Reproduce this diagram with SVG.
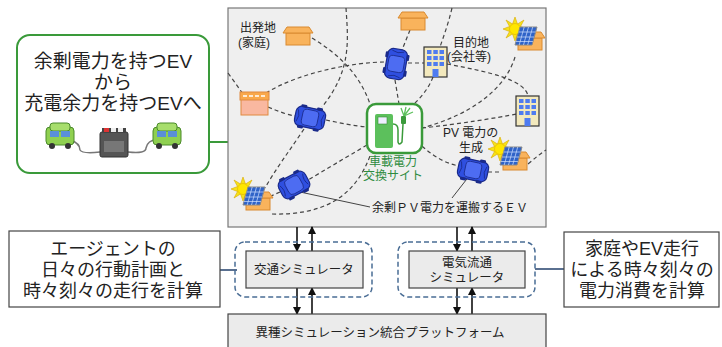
<svg xmlns="http://www.w3.org/2000/svg" width="722" height="347" viewBox="0 0 722 347">
  <style>
    .jp { font-family: "Liberation Sans", "Noto Sans CJK JP", sans-serif; fill: #222; }
    .big { font-size: 18px; }
    .mid { font-size: 12.5px; }
    .sm { font-size: 12px; }
    .road { fill: none; stroke: #444; stroke-width: 1.2; stroke-dasharray: 4 3; }
    .lead { fill: none; stroke: #444; stroke-width: 1; }
    .flow { fill: none; stroke: #111; stroke-width: 1.6; }
    .house { fill: #f9b35c; stroke: #d98a30; stroke-width: 1; }
    .sim { fill: #ebebeb; stroke: #444; stroke-width: 1.2; }
    .wrap { fill: none; stroke: #4a6d95; stroke-width: 1.5; stroke-dasharray: 5 3; }
    .note { fill: #fff; stroke: #444; stroke-width: 1.2; }
    .tie { stroke: #5a7090; stroke-width: 2; }
  </style>
  <defs>
    <marker id="ah" markerWidth="8" markerHeight="8" refX="7" refY="4" orient="auto" markerUnits="userSpaceOnUse">
      <path d="M0,0 L8,4 L0,8 Z" fill="#111"/>
    </marker>
    <!-- blue car, centred on origin, long axis along x -->
    <g id="car">
      <rect x="-15" y="-10" width="30" height="20" rx="6" fill="#2f4fe0" stroke="#1a2a8a" stroke-width="1.2"/>
      <rect x="-8" y="-8" width="16" height="16" rx="4" fill="#4d6cf2" stroke="#1a2a8a" stroke-width="0.8"/>
      <path d="M-13,-6 Q-10,0 -13,6 M13,-6 Q10,0 13,6" fill="none" stroke="#1a2a8a" stroke-width="0.8"/>
      <rect x="-11" y="-12" width="6" height="3" rx="1" fill="#1a2a8a"/>
      <rect x="5" y="-12" width="6" height="3" rx="1" fill="#1a2a8a"/>
      <rect x="-11" y="9" width="6" height="3" rx="1" fill="#1a2a8a"/>
      <rect x="5" y="9" width="6" height="3" rx="1" fill="#1a2a8a"/>
    </g>
    <!-- house, centred on origin -->
    <g id="house">
      <rect x="-12" y="-3" width="24" height="12" class="house"/>
      <path d="M-11,-9 L11,-9 L15,-3 L-15,-3 Z" class="house"/>
    </g>
    <!-- office building, top-left at origin -->
    <g id="bldg">
      <rect x="0" y="0" width="23" height="30" fill="#f3e9bd" stroke="#333" stroke-width="1.2"/>
      <g fill="#4f7cf0">
        <rect x="3" y="3" width="4.5" height="4"/><rect x="9.3" y="3" width="4.5" height="4"/><rect x="15.5" y="3" width="4.5" height="4"/>
        <rect x="3" y="9" width="4.5" height="4"/><rect x="9.3" y="9" width="4.5" height="4"/><rect x="15.5" y="9" width="4.5" height="4"/>
        <rect x="3" y="15" width="4.5" height="4"/><rect x="9.3" y="15" width="4.5" height="4"/><rect x="15.5" y="15" width="4.5" height="4"/>
        <rect x="8.5" y="22" width="6" height="8"/>
      </g>
    </g>
    <!-- sun with solar panel in front of a house -->
    <g id="solar">
      <use href="#house" x="15" y="12"/>
      <path d="M0,-12 L2.5,-5 L9,-9 L5.5,-2.5 L12,0 L5.5,2.5 L9,9 L2.5,5 L0,12 L-2.5,5 L-9,9 L-5.5,2.5 L-12,0 L-5.5,-2.5 L-9,-9 L-2.5,-5 Z" fill="#f5e21a" stroke="#d9a800" stroke-width="0.6"/>
      <circle cx="0" cy="0" r="5.5" fill="#ffe600" stroke="#e0b000" stroke-width="0.6"/>
      <path d="M5,-2 L22,-2 L17,16 L0,16 Z" fill="#2f63c8" stroke="#888" stroke-width="1"/>
      <path d="M9.2,-2 L4.2,16 M13.5,-2 L8.5,16 M17.7,-2 L12.7,16 M3.6,3 L20.6,3 M2.2,8 L19.2,8 M0.9,12.5 L17.9,12.5" stroke="#cfe0ff" stroke-width="0.7"/>
    </g>
    <!-- green van for the callout -->
    <g id="van">
      <rect x="0" y="4" width="28" height="18" rx="4" fill="#8fd050" stroke="#4a8a2a" stroke-width="1"/>
      <rect x="4" y="0" width="20" height="8" rx="3" fill="#a7de6c" stroke="#4a8a2a" stroke-width="1"/>
      <rect x="4" y="8" width="9" height="6" fill="#5a8fd8"/>
      <rect x="15" y="8" width="9" height="6" fill="#5a8fd8"/>
      <circle cx="6" cy="23" r="3" fill="#333"/>
      <circle cx="22" cy="23" r="3" fill="#333"/>
    </g>
  </defs>

  <rect width="722" height="347" fill="#fff"/>

  <!-- callout: EV-to-EV power transfer -->
  <g id="callout">
    <line x1="209" y1="142" x2="228" y2="142" stroke="#3a9a3a" stroke-width="2"/>
    <rect x="17" y="35" width="192" height="138" rx="13" fill="#fff" stroke="#3a9a3a" stroke-width="2"/>
    <text class="jp" font-size="19" text-anchor="middle" x="113" y="68">余剰電力を持つEV</text>
    <text class="jp" font-size="19" text-anchor="middle" x="113" y="89">から</text>
    <text class="jp" font-size="19" text-anchor="middle" x="113" y="110">充電余力を持つEVへ</text>
    <path d="M70,140 Q80,143 80,150 Q82,154 100,152 M128,152 Q146,154 146,148 Q148,140 156,140" fill="none" stroke="#777" stroke-width="1.5"/>
    <use href="#van" x="46" y="123"/>
    <use href="#van" x="153" y="123"/>
    <rect x="100" y="132" width="28" height="25" rx="2" fill="#555" stroke="#333" stroke-width="1"/>
    <rect x="104" y="141" width="20" height="11" fill="#777"/>
    <rect x="102" y="128" width="24" height="5" fill="#444"/>
    <rect x="104" y="128" width="5" height="4" fill="#d33"/>
    <rect x="111" y="128" width="5" height="4" fill="#eee"/>
    <rect x="118" y="128" width="5" height="4" fill="#eee"/>
  </g>

  <!-- town map -->
  <g id="map">
    <rect x="228" y="8" width="318" height="219" fill="#efefef" stroke="#777" stroke-width="1.2"/>
  </g>

  <!-- roads and leader lines -->
  <g id="connectors">
    <path class="road" d="M228,73 Q236,84 243,94"/>
    <path class="road" d="M266,93 C300,72 355,62 386,62"/>
    <path class="road" d="M408,63 L424,63"/>
    <path class="road" d="M447,64 C490,72 525,80 528,96"/>
    <path class="road" d="M312,38 C340,55 360,75 370,104"/>
    <path class="road" d="M346,8 C348,40 352,70 322,107"/>
    <path class="road" d="M410,30 L402,50"/>
    <path class="road" d="M395,80 L399,104"/>
    <path class="road" d="M452,8 C448,25 443,38 440,47"/>
    <path class="road" d="M433,77 C428,90 420,98 414,104"/>
    <path class="road" d="M515,57 C505,90 470,115 422,128"/>
    <path class="road" d="M422,128 C460,124 495,118 517,114"/>
    <path class="road" d="M422,146 C435,158 448,164 459,166"/>
    <path class="road" d="M488,172 L502,172"/>
    <path class="road" d="M528,164 C535,158 540,154 546,150"/>
    <path class="road" d="M268,107 C280,112 288,115 296,116"/>
    <path class="road" d="M326,120 C340,123 355,126 367,127"/>
    <path class="road" d="M304,129 C290,150 275,170 265,188"/>
    <path class="road" d="M367,145 C345,158 325,170 308,180"/>
    <path class="road" d="M280,192 L262,200"/>
    <path class="road" d="M272,214 C320,215 355,200 371,153"/>
    <path class="lead" d="M300,192 L370,207"/>
    <path class="lead" d="M470,175 L452,198"/>

    <!-- data exchange between simulators and platform -->
    <line class="flow" x1="297" y1="227" x2="297" y2="251" marker-end="url(#ah)"/>
    <line class="flow" x1="312" y1="251" x2="312" y2="227" marker-end="url(#ah)"/>
    <line class="flow" x1="297" y1="288" x2="297" y2="314" marker-end="url(#ah)"/>
    <line class="flow" x1="312" y1="314" x2="312" y2="288" marker-end="url(#ah)"/>
    <line class="flow" x1="457" y1="227" x2="457" y2="251" marker-end="url(#ah)"/>
    <line class="flow" x1="472" y1="251" x2="472" y2="227" marker-end="url(#ah)"/>
    <line class="flow" x1="457" y1="288" x2="457" y2="314" marker-end="url(#ah)"/>
    <line class="flow" x1="472" y1="314" x2="472" y2="288" marker-end="url(#ah)"/>

    <line class="tie" x1="220" y1="270" x2="237" y2="270"/>
    <line class="tie" x1="535" y1="269" x2="564" y2="269"/>
  </g>

  <g id="home">
    <use href="#house" x="298" y="36"/>
    <text class="jp sm" x="240" y="32">出発地</text>
    <text class="jp sm" x="238" y="47">(家庭)</text>
  </g>
  <g id="house-top">
    <use href="#house" x="413" y="21"/>
  </g>
  <g id="shop">
    <rect x="241" y="99" width="27" height="16" fill="#f9b8a0" stroke="#e08a40" stroke-width="1"/>
    <rect x="240" y="92" width="29" height="8" fill="#f9a84a" stroke="#e08a40" stroke-width="1"/>
    <path d="M243,96 h4 M249,96 h4 M255,96 h4 M261,96 h4" stroke="#fff" stroke-width="1.5"/>
  </g>
  <g id="office">
    <use href="#bldg" x="424" y="47"/>
    <text class="jp sm" x="453" y="47">目的地</text>
    <text class="jp sm" x="447" y="61">(会社等)</text>
  </g>
  <g id="office-2">
    <use href="#bldg" x="516" y="96" transform="translate(0,0)"/>
  </g>
  <g id="solar-top">
    <use href="#solar" x="515" y="29"/>
  </g>
  <g id="solar-left">
    <use href="#solar" x="243" y="189"/>
  </g>
  <g id="solar-right">
    <use href="#solar" x="500" y="149"/>
    <text class="jp sm" x="443" y="137">PV 電力の</text>
    <text class="jp sm" x="459" y="152">生成</text>
  </g>

  <g id="ev-1"><use href="#car" transform="translate(396,64) rotate(100)"/></g>
  <g id="ev-2"><use href="#car" transform="translate(310,118) rotate(12)"/></g>
  <g id="ev-3"><use href="#car" transform="translate(294,185) rotate(-28)"/></g>
  <g id="ev-4"><use href="#car" transform="translate(473,170) rotate(12)"/></g>

  <g id="exchange-site">
    <rect x="367" y="104" width="55" height="49" rx="9" fill="#fff" stroke="#3a9a3a" stroke-width="2.5"/>
    <rect x="375" y="114" width="18" height="34" rx="2" fill="#5cc05c"/>
    <rect x="378" y="117" width="9" height="7" fill="#eef" stroke="#3a8a3a" stroke-width="0.6"/>
    <path d="M393,124 Q398,124 398,130 L398,142 Q399,146 402,142 L403,124" fill="none" stroke="#3a9a3a" stroke-width="1.5"/>
    <path d="M403,124 L404,116 M404,116 L401,108 M404,116 L406,107 M404,116 L410,108 M404,116 L413,112" fill="none" stroke="#5cc05c" stroke-width="1.3"/>
    <rect x="401" y="116" width="5" height="8" rx="1" fill="#3a9a3a"/>
    <text class="jp sm" style="fill:#2e8b3e" text-anchor="middle" x="393" y="166">車載電力</text>
    <text class="jp sm" style="fill:#2e8b3e" text-anchor="middle" x="393" y="180">交換サイト</text>
  </g>

  <g id="ev-label">
    <text class="jp sm" x="372" y="212">余剰ＰＶ電力を運搬するＥＶ</text>
  </g>

  <g id="agent-note">
    <rect class="note" x="9" y="231" width="211" height="76"/>
    <text class="jp big" text-anchor="middle" x="113" y="255">エージェントの</text>
    <text class="jp big" text-anchor="middle" x="113" y="276">日々の行動計画と</text>
    <text class="jp big" text-anchor="middle" x="113" y="297">時々刻々の走行を計算</text>
  </g>

  <g id="traffic-sim">
    <rect class="wrap" x="235" y="242" width="137" height="55" rx="10"/>
    <rect class="sim" x="246" y="251" width="117" height="37"/>
    <text class="jp mid" text-anchor="middle" x="304" y="274">交通シミュレータ</text>
  </g>

  <g id="power-sim">
    <rect class="wrap" x="398" y="242" width="137" height="55" rx="10"/>
    <rect class="sim" x="409" y="251" width="116" height="37"/>
    <text class="jp mid" text-anchor="middle" x="467" y="267">電気流通</text>
    <text class="jp mid" text-anchor="middle" x="467" y="282">シミュレータ</text>
  </g>

  <g id="power-note">
    <rect class="note" x="564" y="232" width="155" height="75"/>
    <text class="jp big" text-anchor="middle" x="642" y="255">家庭やEV走行</text>
    <text class="jp big" text-anchor="middle" x="642" y="276">による時々刻々の</text>
    <text class="jp big" text-anchor="middle" x="642" y="297">電力消費を計算</text>
  </g>

  <g id="platform">
    <rect class="sim" x="228" y="314" width="318" height="40"/>
    <text class="jp mid" text-anchor="middle" x="380" y="337">異種シミュレーション統合プラットフォーム</text>
  </g>
</svg>
